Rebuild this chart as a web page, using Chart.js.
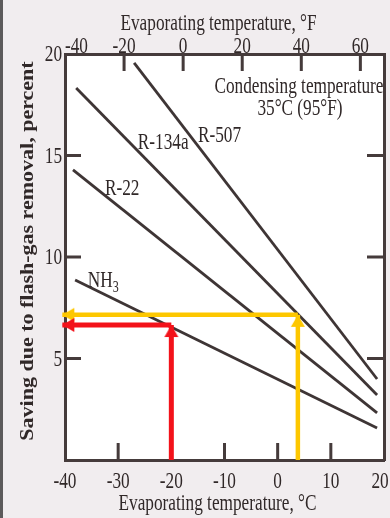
<!DOCTYPE html>
<html>
<head>
<meta charset="utf-8">
<script src="https://cdn.jsdelivr.net/npm/chart.js@4.4.1/dist/chart.umd.min.js"></script>
<style>
  html, body { margin: 0; padding: 0; background: #f1edef; }
  #chart { display: block; }
</style>
</head>
<body>
<canvas id="chart" width="390" height="518"></canvas>
<script>
// Values: evaporating temperature in °C, saving in percent
const celsiusTicks = [-40, -30, -20, -10, 0, 10, 20];
const fahrenheitTicks = [-40, -20, 0, 20, 40, 60];
const percentTicks = [5, 10, 15, 20];

const refrigerants = ['R-507', 'R-134a', 'R-22', 'NH3'];
const startTemp = [-27.0, -37.9, -38.5, -38.1];
const startSaving = [19.56, 18.33, 14.29, 8.87];
const endTemp = [18.7, 18.7, 18.7, 18.7];
const endSaving = [3.99, 3.2, 2.32, 1.58];

// the two worked examples (red: NH3 at -20 °C, yellow: R-134a at about 4 °C)
const redTemp = -20;
const redSaving = 6.65;
const yellowTemp = 3.8;
const yellowSaving = 7.15;
const arrowEndTemp = -40.5;

// styles
const ink = '#302828';
const lineColor = '#3e3535';
const frameColor = '#453b3b';
const red = '#f3121a';
const yellow = '#fdc700';
const serif = '"Liberation Serif", "DejaVu Serif", serif';
const textSize = 23;

// Text in the scan is narrow, so squeeze it horizontally
function squeezedText(ctx, str, x, y, align, size, squeeze = 0.75) {
  ctx.save();
  ctx.translate(x, y);
  ctx.scale(squeeze, 1);
  ctx.font = `${size}px ${serif}`;
  ctx.textAlign = align;
  ctx.textBaseline = 'alphabetic';
  ctx.fillStyle = ink;
  ctx.fillText(str, 0, 0);
  const w = ctx.measureText(str).width * squeeze;
  ctx.restore();
  return w;
}

// Arrow head image, tip at the centre so it lands on the data point
function makeHead(color) {
  const c = document.createElement('canvas');
  c.width = 30; c.height = 30;
  const g = c.getContext('2d');
  g.fillStyle = color;
  g.beginPath();
  g.moveTo(15, 15);
  g.lineTo(22, 27);
  g.lineTo(8, 27);
  g.closePath();
  g.fill();
  return c;
}

const paper = {
  id: 'paper',
  beforeDraw(chart) {
    const { ctx, chartArea: a, width, height } = chart;
    ctx.save();
    ctx.fillStyle = '#f1edef';
    ctx.fillRect(0, 0, width, height);
    ctx.fillStyle = '#5c5a5b';
    ctx.fillRect(0, 0, 3, height);
    ctx.fillStyle = '#ffffff';
    ctx.fillRect(a.left, a.top, a.right - a.left, a.bottom - a.top);
    ctx.restore();
  }
};

// tick marks point into the plot in the original
const inwardTicks = {
  id: 'inwardTicks',
  beforeDatasetsDraw(chart) {
    const { ctx, chartArea: a, scales } = chart;
    const len = 17;
    ctx.save();
    ctx.strokeStyle = frameColor;
    ctx.lineWidth = 3;
    ctx.beginPath();
    celsiusTicks.slice(1, -1).forEach(t => {
      const x = scales.x.getPixelForValue(t);
      ctx.moveTo(x, a.bottom); ctx.lineTo(x, a.bottom - len);
    });
    fahrenheitTicks.slice(1).forEach(f => {
      const x = scales.x2.getPixelForValue(f);
      ctx.moveTo(x, a.top); ctx.lineTo(x, a.top + len);
    });
    percentTicks.slice(0, -1).forEach(p => {
      const y = scales.y.getPixelForValue(p);
      ctx.moveTo(a.left, y); ctx.lineTo(a.left + len - 1, y);
      ctx.moveTo(a.right, y); ctx.lineTo(a.right - len, y);
    });
    ctx.stroke();
    ctx.restore();
  }
};

const lettering = {
  id: 'lettering',
  afterDraw(chart) {
    const { ctx, chartArea: a, scales } = chart;
    const { x, x2, y } = scales;

    // keep the last °C label inside the canvas, like the scan
    celsiusTicks.forEach(t => squeezedText(ctx, String(t), Math.min(x.getPixelForValue(t), chart.width - 10), a.bottom + 28, 'center', textSize));
    fahrenheitTicks.forEach((f, i) =>
      squeezedText(ctx, String(f), x2.getPixelForValue(f), a.top - 1, i === 0 ? 'left' : 'center', textSize));
    percentTicks.forEach(p => squeezedText(ctx, String(p), a.left - 3, y.getPixelForValue(p) + 7, 'right', textSize));

    const mid = (a.left + a.right) / 2 - 6;
    squeezedText(ctx, 'Evaporating temperature, °F', mid, 30, 'center', textSize);
    squeezedText(ctx, 'Evaporating temperature, °C', mid - 1, a.bottom + 50, 'center', textSize);

    ctx.save();
    ctx.translate(33, (a.top + a.bottom) / 2 - 6);
    ctx.rotate(-Math.PI / 2);
    ctx.scale(1, 0.9);
    ctx.font = `bold 22px ${serif}`;
    ctx.textAlign = 'center';
    ctx.fillStyle = ink;
    ctx.fillText('Saving due to flash-gas removal, percent', 0, 0);
    ctx.restore();

    // notes inside the plot, anchored in data units
    const notes = [
      { text: 'Condensing temperature', t: 4.0, v: 18.08, align: 'center' },
      { text: '35°C (95°F)', t: 4.2, v: 17.0, align: 'center' },
      { text: 'R-507', t: -15.0, v: 15.67, align: 'left' },
      { text: 'R-134a', t: -26.3, v: 15.32, align: 'left' },
      { text: 'R-22', t: -32.5, v: 13.05, align: 'left' }
    ];
    notes.forEach(n => squeezedText(ctx, n.text, x.getPixelForValue(n.t), y.getPixelForValue(n.v), n.align, textSize));

    // NH3 with subscript
    const nx = x.getPixelForValue(-35.7);
    const ny = y.getPixelForValue(8.52);
    const w = squeezedText(ctx, 'NH', nx, ny, 'left', textSize);
    squeezedText(ctx, '3', nx + w, ny + 5, 'left', 16);
  }
};

const curves = refrigerants.map((name, i) => ({
  label: name,
  data: [{ x: startTemp[i], y: startSaving[i] }, { x: endTemp[i], y: endSaving[i] }],
  showLine: true,
  borderColor: lineColor,
  borderWidth: 2.8,
  pointRadius: 0,
  order: 2
}));

function arrow(color, width, from, to, rotation) {
  return {
    data: [from, to],
    showLine: true,
    borderColor: color,
    borderWidth: width,
    borderCapStyle: 'butt',
    pointRadius: [0, 10],
    pointStyle: makeHead(color),
    pointRotation: rotation,
    clip: false,
    order: 0
  };
}

const arrows = [
  arrow(red, 5, { x: redTemp, y: 0 }, { x: redTemp, y: redSaving }, 0),
  arrow(red, 5, { x: redTemp, y: redSaving }, { x: arrowEndTemp, y: redSaving }, -90),
  arrow(yellow, 4.5, { x: yellowTemp, y: 0 }, { x: yellowTemp, y: yellowSaving }, 0),
  arrow(yellow, 4.5, { x: yellowTemp, y: yellowSaving }, { x: arrowEndTemp, y: yellowSaving }, -90)
];

const frame = { color: frameColor, width: 3 };

new Chart(document.getElementById('chart').getContext('2d'), {
  type: 'scatter',
  data: { datasets: [...curves, ...arrows] },
  options: {
    responsive: false,
    animation: false,
    devicePixelRatio: 1,
    // arrow heads would otherwise add auto padding on the right
    layout: { padding: 0, autoPadding: false },
    plugins: { legend: { display: false }, tooltip: { enabled: false } },
    scales: {
      x: {
        type: 'linear', position: 'bottom', min: -40, max: 20,
        ticks: { display: false }, grid: { display: false }, border: frame,
        afterFit: s => { s.height = 58; }
      },
      x2: {
        type: 'linear', position: 'top', display: true,
        min: -40, max: 20 * 9 / 5 + 32,
        ticks: { display: false }, grid: { display: false }, border: frame,
        afterFit: s => { s.height = 54; }
      },
      y: {
        type: 'linear', position: 'left', min: 0, max: 20,
        ticks: { display: false }, grid: { display: false }, border: frame,
        afterFit: s => { s.width = 65; }
      },
      y2: {
        type: 'linear', position: 'right', display: true, min: 0, max: 20,
        ticks: { display: false }, grid: { display: false }, border: frame,
        afterFit: s => { s.width = 6; }
      }
    }
  },
  plugins: [paper, inwardTicks, lettering]
});
</script>
</body>
</html>
